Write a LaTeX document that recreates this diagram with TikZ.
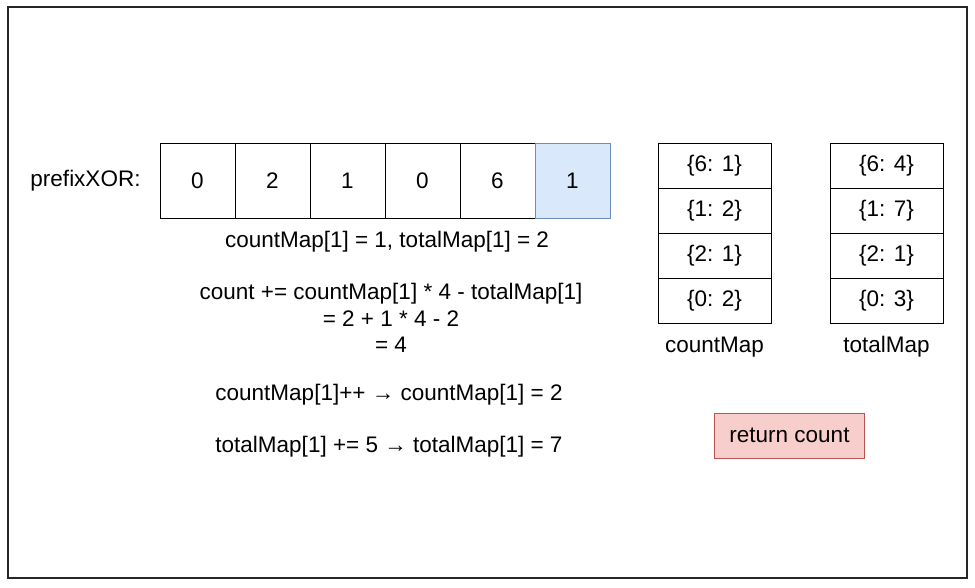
\documentclass[tikz,border=0pt]{standalone}
\usepackage{fontspec}
\setmainfont{Liberation Sans}
\begin{document}
\begin{tikzpicture}[x=1pt,y=-1pt,
  txt/.style={font=\fontsize{22.5}{26.5}\selectfont, inner sep=0pt, align=center},
  cell/.style={draw=black, line width=1pt, minimum width=75pt, minimum height=75pt, inner sep=0pt, font=\fontsize{22.5}{26}\selectfont},
  slot/.style={draw=black, line width=1pt, minimum width=113pt, minimum height=45pt, inner sep=0pt, font=\fontsize{22.5}{26}\selectfont},
  result/.style={line width=1pt, minimum width=150pt, minimum height=45pt, inner sep=0pt, font=\fontsize{22.5}{26}\selectfont}]
\definecolor{cellblue}{HTML}{DAE8FC}
\definecolor{cellblueline}{HTML}{6C8EBF}
\definecolor{boxred}{HTML}{F8CECC}
\definecolor{boxredline}{HTML}{B85450}
\useasboundingbox (0,0) rectangle (975,587);
% outer frame
\draw[line width=1.5pt, black!85] (8,7) rectangle (967,578);

% prefix XOR array
\node[txt] (lbl) at (85.5,181) {prefixXOR:};
\node[cell] (p0) at (197.5,180.5) {0};
\node[cell] (p1) at (272.5,180.5) {2};
\node[cell] (p2) at (347.5,180.5) {1};
\node[cell] (p3) at (422.5,180.5) {0};
\node[cell] (p4) at (497.5,180.5) {6};
\node[cell, draw=cellblueline, fill=cellblue] (p5) at (572.5,180.5) {1};

% explanation text
\node[txt] (t1) at (387,242) {countMap[1] = 1, totalMap[1] = 2};
\node[txt] (t2) at (391,318) {count += countMap[1] * 4 - totalMap[1]\\= 2 + 1 * 4 - 2\\= 4};
\node[txt] (t3) at (389,395) {countMap[1]++ → countMap[1] = 2};
\node[txt] (t4) at (389,447) {totalMap[1] += 5 → totalMap[1] = 7};

% countMap
\node[slot] (c1) at (714.5,165.5) {\{6: 1\}};
\node[slot] (c2) at (714.5,210.5) {\{1: 2\}};
\node[slot] (c3) at (714.5,255.5) {\{2: 1\}};
\node[slot] (c4) at (714.5,300.5) {\{0: 2\}};
\node[txt] (cl) at (714.5,347) {countMap};

% totalMap
\node[slot] (s1) at (886.5,165.5) {\{6: 4\}};
\node[slot] (s2) at (886.5,210.5) {\{1: 7\}};
\node[slot] (s3) at (886.5,255.5) {\{2: 1\}};
\node[slot] (s4) at (886.5,300.5) {\{0: 3\}};
\node[txt] (sl) at (886.5,347) {totalMap};

% result
\node[result, draw=boxredline, fill=boxred] (ret) at (789.5,435.5) {return count};
\end{tikzpicture}
\end{document}
